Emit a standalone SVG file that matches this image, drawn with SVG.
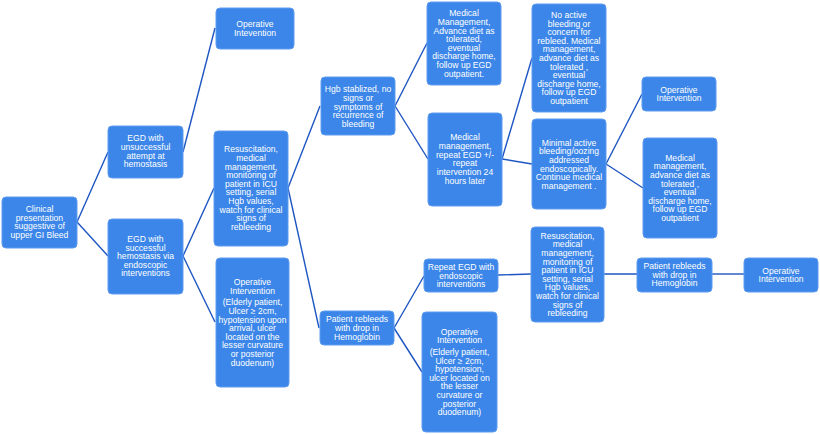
<svg xmlns="http://www.w3.org/2000/svg" width="820" height="434" viewBox="0 0 820 434">
<style>
.n rect{fill:#3b86e8;stroke:#5f9cf0;stroke-width:1}
.n text{fill:#fff;font-family:"Liberation Sans",Arial,sans-serif;font-size:8.6px;text-anchor:middle}
#c line{stroke:#1d55c2;stroke-width:1.4}
</style>
<rect width="820" height="434" fill="#fff"/>
<g id="c">
<line x1="77" y1="222" x2="108" y2="152"/>
<line x1="77" y1="222" x2="108" y2="256"/>
<line x1="183" y1="152" x2="215" y2="28"/>
<line x1="183" y1="256" x2="214" y2="188"/>
<line x1="183" y1="256" x2="215" y2="322"/>
<line x1="288" y1="188" x2="320" y2="106"/>
<line x1="288" y1="188" x2="319" y2="328"/>
<line x1="395" y1="106" x2="427" y2="43"/>
<line x1="395" y1="106" x2="428" y2="159"/>
<line x1="502" y1="159" x2="532" y2="58"/>
<line x1="502" y1="159" x2="532" y2="164"/>
<line x1="606" y1="164" x2="642" y2="94"/>
<line x1="606" y1="164" x2="643" y2="188"/>
<line x1="394" y1="328" x2="424" y2="276"/>
<line x1="394" y1="328" x2="422" y2="372"/>
<line x1="498" y1="275" x2="531" y2="274"/>
<line x1="604" y1="274" x2="637" y2="274"/>
<line x1="712" y1="274" x2="744" y2="274"/>
</g>
<g id="n1" class="n"><rect x="2" y="197" width="75" height="51" rx="4"/>
<text x="39.5" y="212">Clinical</text><text x="39.5" y="220.6">presentation</text><text x="39.5" y="229.2">suggestive of</text><text x="39.5" y="237.8">upper GI Bleed</text></g>
<g id="n2" class="n"><rect x="108" y="126" width="75" height="52" rx="4"/>
<text x="145.5" y="141.3">EGD with</text><text x="145.5" y="149.9">unsuccessful</text><text x="145.5" y="158.5">attempt at</text><text x="145.5" y="167.1">hemostasis</text></g>
<g id="n3" class="n"><rect x="108" y="219" width="75" height="75" rx="4"/>
<text x="145.5" y="242">EGD with</text><text x="145.5" y="250.6">successful</text><text x="145.5" y="259.2">hemostasis via</text><text x="145.5" y="267.8">endoscopic</text><text x="145.5" y="276.4">interventions</text></g>
<g id="n4" class="n"><rect x="216" y="8" width="78" height="41" rx="4"/>
<text x="255" y="27">Operative</text><text x="255" y="35.8">Intevention</text></g>
<g id="n5" class="n"><rect x="214" y="131" width="74" height="115" rx="4"/>
<text x="251" y="152.3">Resuscitation,</text><text x="251" y="160.9">medical</text><text x="251" y="169.5">management,</text><text x="251" y="178.1">monitoring of</text><text x="251" y="186.7">patient in ICU</text><text x="251" y="195.3">setting, serial</text><text x="251" y="203.9">Hgb values,</text><text x="251" y="212.5">watch for clinical</text><text x="251" y="221.1">signs of</text><text x="251" y="229.7">rebleeding</text></g>
<g id="n6" class="n"><rect x="216" y="258" width="73" height="129" rx="4"/>
<text x="252.5" y="285">Operative</text><text x="252.5" y="293.6">Intervention</text><text x="252.5" y="305.3">(Elderly patient,</text><text x="252.5" y="313.9">Ulcer ≥ 2cm,</text><text x="252.5" y="322.5">hypotension upon</text><text x="252.5" y="331.1">arrival, ulcer</text><text x="252.5" y="339.7">located on the</text><text x="252.5" y="348.3">lesser  curvature</text><text x="252.5" y="356.9">or posterior</text><text x="252.5" y="365.5">duodenum)</text></g>
<g id="n7" class="n"><rect x="321" y="77" width="74" height="58" rx="4"/>
<text x="358" y="92.3">Hgb stablized, no</text><text x="358" y="100.9">signs or</text><text x="358" y="109.5">symptoms of</text><text x="358" y="118.1">recurrence of</text><text x="358" y="126.7">bleeding</text></g>
<g id="n8" class="n"><rect x="320" y="311" width="74" height="34" rx="4"/>
<text x="357" y="322.3">Patient rebleeds</text><text x="357" y="330.9">with drop in</text><text x="357" y="339.5">Hemoglobin</text></g>
<g id="n9" class="n"><rect x="427" y="2" width="74" height="83" rx="4"/>
<text x="464" y="16.3">Medical</text><text x="464" y="24.9">Management,</text><text x="464" y="33.5">Advance diet as</text><text x="464" y="42.1">tolerated,</text><text x="464" y="50.7">eventual</text><text x="464" y="59.3">discharge home,</text><text x="464" y="67.9">follow up EGD</text><text x="464" y="76.5">outpatient.</text></g>
<g id="n10" class="n"><rect x="428" y="113" width="74" height="93" rx="4"/>
<text x="465" y="140.3">Medical</text><text x="465" y="149">management,</text><text x="465" y="157.7">repeat EGD +/-</text><text x="465" y="166.4">repeat</text><text x="465" y="175.1">intervention 24</text><text x="465" y="183.8">hours later</text></g>
<g id="n11" class="n"><rect x="424" y="259" width="74" height="33" rx="4"/>
<text x="461" y="270">Repeat EGD with</text><text x="461" y="278.6">endoscopic</text><text x="461" y="287.2">interventions</text></g>
<g id="n12" class="n"><rect x="422" y="312" width="75" height="120" rx="4"/>
<text x="459.5" y="334.7">Operative</text><text x="459.5" y="343.3">Intervention</text><text x="459.5" y="355">(Elderly patient,</text><text x="459.5" y="363.6">Ulcer ≥ 2cm,</text><text x="459.5" y="372.2">hypotension,</text><text x="459.5" y="380.8">ulcer located on</text><text x="459.5" y="389.4">the lesser</text><text x="459.5" y="398">curvature or</text><text x="459.5" y="406.6">posterior</text><text x="459.5" y="415.2">duodenum)</text></g>
<g id="n13" class="n"><rect x="532" y="4" width="74" height="108" rx="4"/>
<text x="569" y="18">No active</text><text x="569" y="26.6">bleeding or</text><text x="569" y="35.2">concern for</text><text x="569" y="43.8">rebleed.  Medical</text><text x="569" y="52.4">management,</text><text x="569" y="61">advance diet as</text><text x="569" y="69.6">tolerated ,</text><text x="569" y="78.2">eventual</text><text x="569" y="86.8">discharge home,</text><text x="569" y="95.4">follow up EGD</text><text x="569" y="104">outpatient</text></g>
<g id="n14" class="n"><rect x="532" y="119" width="74" height="90" rx="4"/>
<text x="569" y="145.7">Minimal active</text><text x="569" y="154.3">bleeding/oozing</text><text x="569" y="162.9">addressed</text><text x="569" y="171.5">endoscopically.</text><text x="569" y="180.1">Continue medical</text><text x="569" y="188.7">management .</text></g>
<g id="n15" class="n"><rect x="642" y="77" width="74" height="34" rx="4"/>
<text x="679" y="92.7">Operative</text><text x="679" y="101.3">Intervention</text></g>
<g id="n16" class="n"><rect x="643" y="138" width="74" height="100" rx="4"/>
<text x="680" y="160.7">Medical</text><text x="680" y="169.3">management,</text><text x="680" y="177.9">advance diet as</text><text x="680" y="186.5">tolerated ,</text><text x="680" y="195.1">eventual</text><text x="680" y="203.7">discharge home,</text><text x="680" y="212.3">follow up EGD</text><text x="680" y="220.9">outpatient</text></g>
<g id="n17" class="n"><rect x="531" y="227" width="73" height="95" rx="4"/>
<text x="567.5" y="238.7">Resuscitation,</text><text x="567.5" y="247.3">medical</text><text x="567.5" y="255.9">management,</text><text x="567.5" y="264.5">monitoring of</text><text x="567.5" y="273.1">patient in ICU</text><text x="567.5" y="281.7">setting, serial</text><text x="567.5" y="290.3">Hgb values,</text><text x="567.5" y="298.9">watch for clinical</text><text x="567.5" y="307.5">signs of</text><text x="567.5" y="316.1">rebleeding</text></g>
<g id="n18" class="n"><rect x="637" y="258" width="75" height="34" rx="4"/>
<text x="674.5" y="269">Patient rebleeds</text><text x="674.5" y="277.6">with drop in</text><text x="674.5" y="286.2">Hemoglobin</text></g>
<g id="n19" class="n"><rect x="744" y="258" width="74" height="34" rx="4"/>
<text x="781" y="273.7">Operative</text><text x="781" y="282.3">Intervention</text></g>
</svg>
